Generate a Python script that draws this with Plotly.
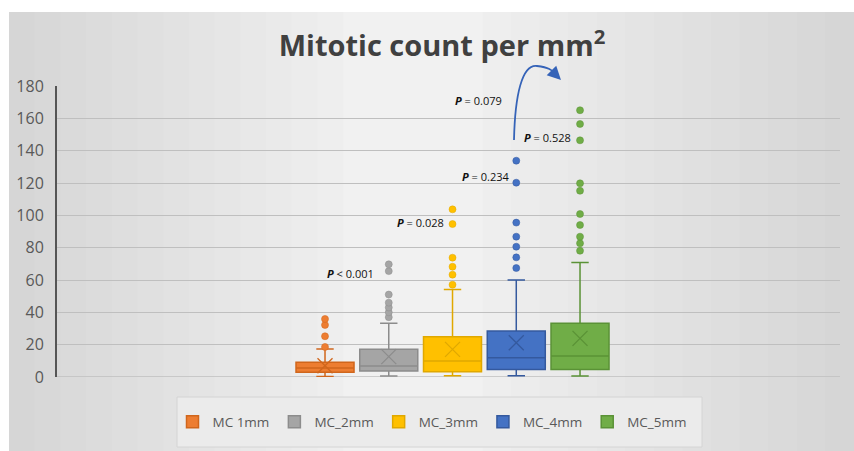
import plotly.graph_objects as go

# --- data ---------------------------------------------------------------
categories = ["MC 1mm", "MC_2mm", "MC_3mm", "MC_4mm", "MC_5mm"]
q1 = [2.9, 3.7, 3.3, 4.7, 4.7]
median = [5.5, 6.8, 9.9, 11.9, 13.0]
q3 = [9.1, 17.1, 24.9, 28.4, 33.2]
lower_fence = [0.3, 0.6, 0.8, 0.8, 0.6]
upper_fence = [17.3, 33.2, 54.2, 60.0, 70.9]
means = [7.0, 12.6, 17.1, 21.2, 23.9]
outliers_1mm = [18.6, 25.2, 32.2, 35.9]
outliers_2mm = [37.0, 40.0, 43.0, 46.0, 51.0, 65.5, 69.7]
outliers_3mm = [57.1, 63.3, 68.2, 73.8, 94.6, 103.7]
outliers_4mm = [67.4, 74.0, 80.6, 86.8, 95.5, 120.2, 133.8]
outliers_5mm = [78.1, 82.7, 86.8, 94.0, 100.8, 115.2, 119.8, 146.4, 156.5, 165.0]
outliers = [outliers_1mm, outliers_2mm, outliers_3mm, outliers_4mm, outliers_5mm]

p_labels = ["< 0.001", "= 0.028", "= 0.079", "= 0.234", "= 0.528"]
y_ticks = [0, 20, 40, 60, 80, 100, 120, 140, 160, 180]

fills = ["#ED7D31", "#A5A5A5", "#FFC000", "#4472C4", "#70AD47"]
edges = ["#D0661C", "#8C8C8C", "#E0A800", "#34599E", "#5A9236"]

W, H = 854, 451
PL, PR, PT, PB = 57, 840, 86, 377  # plot area in pixels


def px(x):
    return (x - PL) / (PR - PL)


def py(y):
    return (PB - y) / (PB - PT)


fig = go.Figure()

positions = [1, 2, 3, 4, 5]
for i, name in enumerate(categories):
    fig.add_trace(go.Box(
        x=[positions[i]], q1=[q1[i]], median=[median[i]], q3=[q3[i]],
        lowerfence=[lower_fence[i]], upperfence=[upper_fence[i]],
        name=name, legendgroup=name, boxpoints=False,
        width=0.91, whiskerwidth=0.3,
        fillcolor=fills[i], line=dict(color=edges[i], width=1.5),
        hoverinfo="skip",
    ))
    fig.add_trace(go.Scatter(
        x=[positions[i]] * len(outliers[i]), y=outliers[i],
        mode="markers", legendgroup=name, showlegend=False,
        marker=dict(color=fills[i], size=7, line=dict(color=edges[i], width=0.5)),
        hoverinfo="skip",
    ))
    fig.add_trace(go.Scatter(
        x=[positions[i]], y=[means[i]], mode="markers",
        legendgroup=name, showlegend=False,
        marker=dict(symbol="x-thin", size=15,
                    line=dict(color=edges[i], width=1.3)),
        hoverinfo="skip",
    ))

# soft gray backdrop, lighter toward the middle
shapes = []
y_bot, y_top = py(451), py(12)
n = 14
for k in range(n):
    t = k / (n - 1)
    c = int(0xD6 + (0xF1 - 0xD6) * t)
    inset = k * (400 / n)
    shapes.append(dict(
        type="rect", xref="paper", yref="paper", layer="below",
        x0=px(9 + inset * 0.9), x1=px(854 - inset),
        y0=y_bot, y1=y_top, line=dict(width=0),
        fillcolor=f"rgb({c},{c},{c})",
    ))

# legend frame
shapes.append(dict(
    type="rect", xref="paper", yref="paper", layer="below",
    x0=px(177), x1=px(702), y0=py(447), y1=py(397),
    line=dict(color="#d4d4d4", width=1), fillcolor="#ebebeb",
))

# baseline at zero
shapes.append(dict(
    type="line", xref="paper", yref="y", layer="below",
    x0=0, x1=1, y0=0, y1=0, line=dict(color="#bfbfbf", width=1.3),
))

# curved arrow
path = (f"M {px(514)},{py(140)} "
        f"C {px(515)},{py(95)} {px(522)},{py(64)} {px(537)},{py(66)} "
        f"S {px(552)},{py(71)} {px(555)},{py(74)}")
shapes.append(dict(type="path", xref="paper", yref="paper", path=path,
                   line=dict(color="#3563B8", width=1.8)))

annotations = [dict(
    xref="paper", yref="paper", x=px(561), y=py(80), ax=-7, ay=-7,
    showarrow=True, arrowhead=2, arrowsize=1.5, arrowwidth=1.8,
    arrowcolor="#3563B8", text="", standoff=0,
)]

p_pos = [(350, 283), (420, 222), (479, 91), (485, 167), (547, 128)]
for (x, y), lab in zip(p_pos, p_labels):
    annotations.append(dict(
        xref="paper", yref="paper", x=px(x), y=py(y), showarrow=False,
        text=f"<b><i>P</i></b> {lab}",
        font=dict(family="Open Sans, sans-serif", size=11, color="#111111"),
    ))

fig.update_layout(
    width=W, height=H,
    margin=dict(l=PL, r=W - PR, t=PT, b=H - PB),
    paper_bgcolor="white", plot_bgcolor="rgba(0,0,0,0)",
    title=dict(text="<b>Mitotic count per mm<sup>2</sup></b>",
               x=px(442), xref="paper", y=1 - 46 / H, yanchor="middle",
               font=dict(family="Open Sans, sans-serif", size=29, color="#404040")),
    xaxis=dict(range=[-3.204, 9.078], showticklabels=False, showgrid=False,
               zeroline=False, showline=False, fixedrange=True),
    yaxis=dict(range=[0, 180], tickvals=y_ticks, showgrid=True,
               gridcolor="#bfbfbf", gridwidth=1.3, zeroline=False,
               showline=True, linecolor="#555555", linewidth=2,
               ticks="", ticklen=0, ticklabelstandoff=8,
               tickfont=dict(family="Open Sans, sans-serif", size=16, color="#595959")),
    legend=dict(orientation="h", x=px(432), xanchor="center",
                y=py(422), yanchor="middle",
                bgcolor="rgba(0,0,0,0)", borderwidth=0,
                font=dict(family="Open Sans, sans-serif", size=13.5, color="#595959"),
                itemwidth=30),
    shapes=shapes, annotations=annotations,
    showlegend=True,
)

fig.write_html("out.html")
